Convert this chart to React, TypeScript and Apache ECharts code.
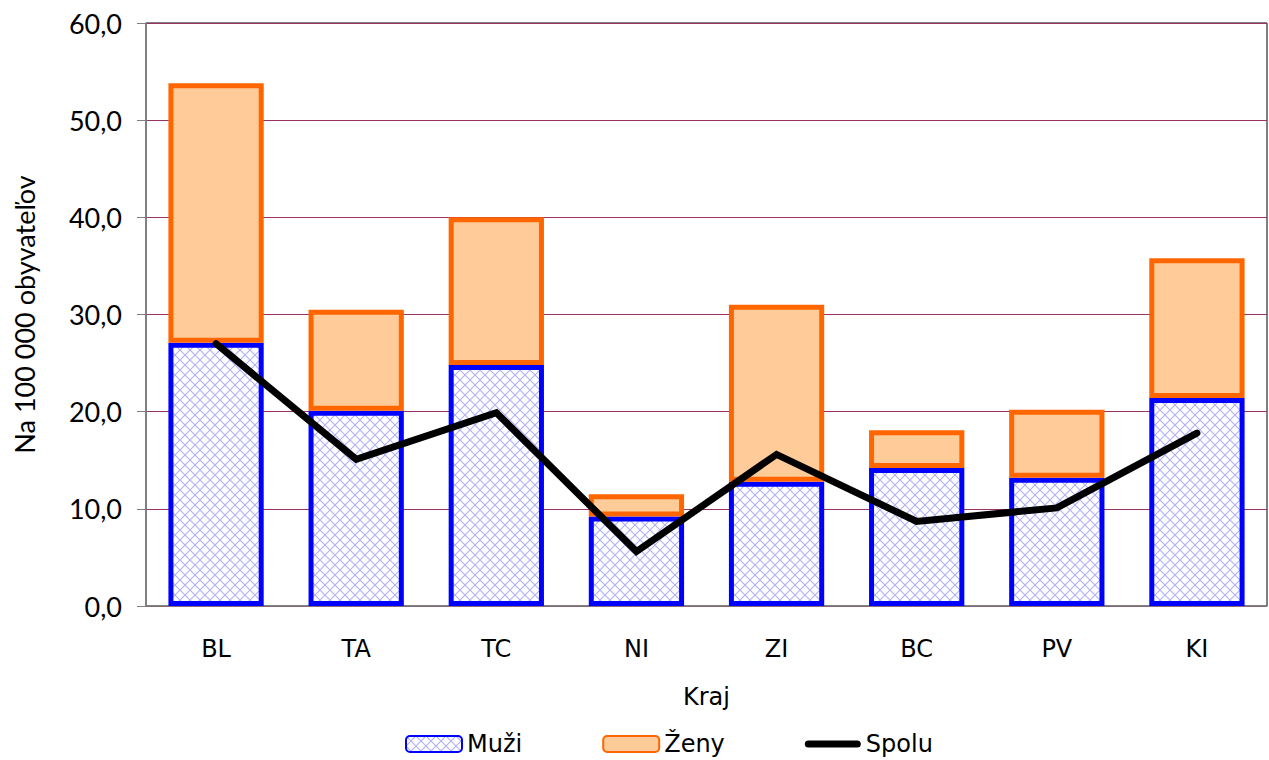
import React, { useEffect, useRef } from "react";
import * as echarts from "echarts";

const categories = ["BL", "TA", "TC", "NI", "ZI", "BC", "PV", "KI"];
const muzi = [27.1, 20.1, 24.8, 9.2, 12.8, 14.2, 13.2, 21.4];
const spoluTotalTop = [53.8, 30.5, 40.0, 11.5, 31.0, 18.1, 20.2, 35.8];
const zeny = spoluTotalTop.map((t, i) => +(t - muzi[i]).toFixed(1));
const spolu = [27.0, 15.1, 19.9, 5.6, 15.6, 8.7, 10.1, 17.8];
const yTicks = { min: 0, max: 60, interval: 10 };

function makeHatch(): HTMLCanvasElement {
  const c = document.createElement("canvas");
  const s = 10;
  c.width = s;
  c.height = s;
  const ctx = c.getContext("2d")!;
  ctx.fillStyle = "#ffffff";
  ctx.fillRect(0, 0, s, s);
  ctx.strokeStyle = "#b0b0f6";
  ctx.lineWidth = 1.1;
  ctx.beginPath();
  ctx.moveTo(-1, -1);
  ctx.lineTo(s + 1, s + 1);
  ctx.moveTo(s + 1, -1);
  ctx.lineTo(-1, s + 1);
  ctx.stroke();
  return c;
}

export default function App() {
  const ref = useRef<HTMLDivElement>(null);
  useEffect(() => {
    if (!ref.current) return;
    const chart = echarts.init(ref.current, null, { renderer: "svg" });
    const hatch = makeHatch();
    const axisFont = "Lato, 'Open Sans', sans-serif";
    const catFont = "'DejaVu Sans', sans-serif";
    chart.setOption({
      animation: false,
      backgroundColor: "#ffffff",
      grid: {
        left: 146,
        right: 2,
        top: 23,
        bottom: 154,
        show: true,
        borderColor: "#000000",
        borderWidth: 1,
        containLabel: false,
      },
      legend: {
        top: 732,
        left: 405,
        padding: 0,
        itemWidth: 56,
        itemHeight: 16,
        itemGap: 80,
        textStyle: { fontFamily: catFont, fontSize: 24, color: "#000" },
        data: [
          { name: "Muži" },
          { name: "Ženy" },
          {
            name: "Spolu",
            icon: "path://M3.5,0 L52.5,0 A3.5,3.5 0 0 1 52.5,7 L3.5,7 A3.5,3.5 0 0 1 3.5,0 Z",
            itemStyle: { color: "#000000" },
          },
        ],
      },
      xAxis: {
        type: "category",
        data: categories,
        name: "Kraj",
        nameLocation: "middle",
        nameGap: 79,
        nameTextStyle: { fontFamily: catFont, fontSize: 24, color: "#000" },
        axisLine: { show: true, lineStyle: { color: "#808080", width: 1.5 } },
        axisTick: { show: false },
        axisLabel: { fontFamily: catFont, fontSize: 24, color: "#000", margin: 31 },
        splitLine: { show: false },
      },
      yAxis: {
        type: "value",
        min: yTicks.min,
        max: yTicks.max,
        interval: yTicks.interval,
        name: "Na 100 000 obyvateľov",
        nameLocation: "middle",
        nameGap: 108,
        nameTextStyle: { fontFamily: axisFont, fontSize: 27, color: "#000" },
        axisLine: { show: true, lineStyle: { color: "#808080", width: 1.5 } },
        axisTick: { show: true, length: 9, lineStyle: { color: "#808080" } },
        axisLabel: {
          fontFamily: axisFont,
          fontSize: 27,
          color: "#000",
          margin: 24,
          formatter: (v: number) => v.toFixed(1).replace(".", ","),
        },
        splitLine: { show: true, lineStyle: { color: "#993366", width: 1 } },
      },
      series: [
        {
          name: "Muži",
          type: "bar",
          stack: "s",
          data: muzi,
          barWidth: "68%",
          itemStyle: {
            color: { image: hatch, repeat: "repeat" },
            borderColor: "#0000ff",
            borderWidth: 5,
          },
        },
        {
          name: "Ženy",
          type: "bar",
          stack: "s",
          data: zeny,
          barWidth: "68%",
          itemStyle: { color: "#ffcc99", borderColor: "#ff6600", borderWidth: 5 },
        },
        {
          name: "Spolu",
          type: "line",
          data: spolu,
          symbol: "none",
          z: 5,
          lineStyle: { color: "#000000", width: 7, cap: "round", join: "miter" },
          itemStyle: { color: "#000000" },
        },
      ],
    });
    return () => chart.dispose();
  }, []);
  return (
    <div
      ref={ref}
      style={{ position: "fixed", left: 0, top: 0, width: 1269, height: 760 }}
    />
  );
}
